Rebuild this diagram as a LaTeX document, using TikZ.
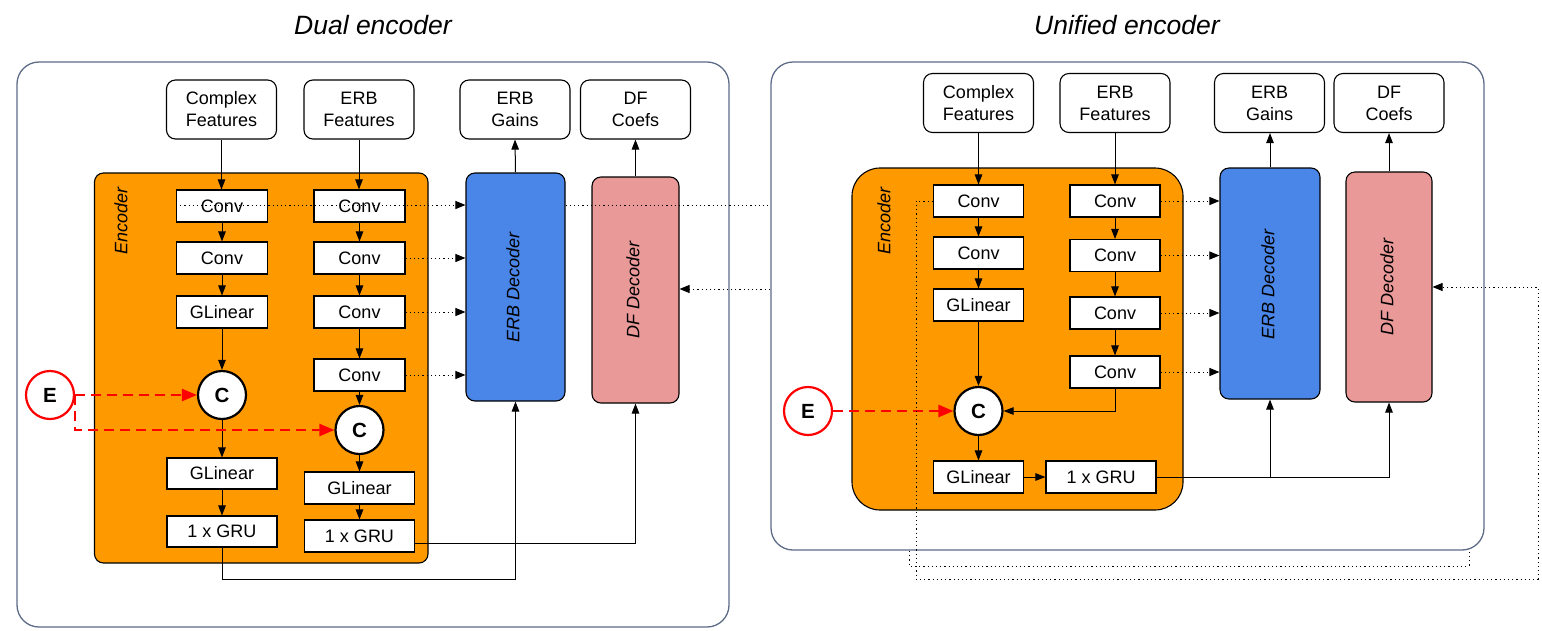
\documentclass[tikz,border=0pt]{standalone}
\usepackage{fontspec}
\setmainfont{Liberation Sans}
\usetikzlibrary{arrows.meta,calc}
\definecolor{encorange}{HTML}{FF9900}
\definecolor{decblue}{HTML}{4A86E8}
\definecolor{decpink}{HTML}{EA9999}
\definecolor{panelc}{HTML}{5E6C87}
\newcommand\blkfont{\fontsize{18}{22}\selectfont}
\begin{document}
\begin{tikzpicture}[x=1pt,y=-1pt,
  panel/.style={draw=panelc,line width=1.3pt,rounded corners=22pt},
  encbox/.style={draw=black,fill=encorange,line width=1.1pt,inner sep=0pt},
  decbox/.style={draw=black,line width=1.1pt,rounded corners=9pt,inner sep=0pt},
  declab/.style={rotate=90,font=\itshape\blkfont},
  feat/.style={draw,fill=white,rounded corners=9pt,line width=1.1pt,align=center,font=\blkfont,minimum height=59pt,minimum width=110pt,inner sep=0pt},
  blk/.style={draw,fill=white,line width=1.1pt,minimum height=32pt,inner sep=0pt,font=\blkfont},
  cnode/.style={circle,draw,fill=white,line width=2.2pt,minimum size=48pt,inner sep=0pt,font=\bfseries\fontsize{20.5}{22}\selectfont},
  enode/.style={circle,draw=red,fill=white,line width=2.2pt,minimum size=48pt,inner sep=0pt,font=\bfseries\fontsize{20.5}{22}\selectfont},
  arr/.style={line width=1pt,-{Triangle[length=10pt,width=7.5pt]}},
  dotarr/.style={line width=1pt,dash pattern=on 1.2pt off 3pt,-{Triangle[length=10pt,width=8pt]}},
  dotln/.style={line width=1pt,dash pattern=on 1.2pt off 3pt},
  redarr/.style={draw=red,line width=2.5pt,dash pattern=on 10pt off 6pt,-{Triangle[length=15pt,width=12pt,fill=red]}},
  ttl/.style={font=\itshape\fontsize{26.5}{30}\selectfont}
]
\useasboundingbox (0,0) rectangle (1542,630);

% titles
\node[ttl] (tL) at (373,25) {Dual encoder};
\node[ttl] (tR) at (1127,25) {Unified encoder};

% panels
\draw[panel] (17,62) rectangle (729,627);
\draw[panel] (771,62) rectangle (1484,550);

%%%%%%%%%%%%%%%% LEFT %%%%%%%%%%%%%%%%
\node[encbox,rounded corners=9pt,minimum width=333.5pt,minimum height=390pt] (encL) at (261.25,368) {};
\node[declab] (encLlab) at (121,221) {Encoder};
\node[decbox,fill=decblue,minimum width=99pt,minimum height=228pt] (erbdL) at (515.5,287) {};
\node[declab] (erbdLlab) at (513,287) {ERB Decoder};
\node[decbox,fill=decpink,minimum width=87pt,minimum height=226pt] (dfdL) at (635.5,290) {};
\node[declab] (dfdLlab) at (633,290) {DF Decoder};

\node[feat] (cfL) at (221.5,109.5) {Complex\\Features};
\node[feat] (efL) at (359,109.5) {ERB\\Features};
\node[feat] (egL) at (515,109.5) {ERB\\Gains};
\node[feat] (dcL) at (635.5,109.5) {DF\\Coefs};

\node[blk,minimum width=91pt] (cc1L) at (222,206) {Conv};
\node[blk,minimum width=91pt] (cc2L) at (222,258) {Conv};
\node[blk,minimum width=91pt] (cglL) at (222,312) {GLinear};
\node[blk,minimum width=91pt] (ec1L) at (359.5,206) {Conv};
\node[blk,minimum width=91pt] (ec2L) at (359.5,258) {Conv};
\node[blk,minimum width=91pt] (ec3L) at (359.5,312) {Conv};
\node[blk,minimum width=91pt] (ec4L) at (359.5,375) {Conv};
\node[cnode] (c1L) at (222,395) {C};
\node[cnode] (c2L) at (359.5,430) {C};
\node[enode] (eL) at (50,395) {E};
\node[blk,minimum width=110pt,minimum height=31pt] (gl1L) at (222,473.5) {GLinear};
\node[blk,minimum width=110pt,minimum height=31pt] (gru1L) at (222,531.5) {1 x GRU};
\node[blk,minimum width=110pt] (gl2L) at (359.5,488) {GLinear};
\node[blk,minimum width=110pt] (gru2L) at (359.5,536) {1 x GRU};

\draw[arr] (cfL.south) -- (cfL.south |- cc1L.north);
\draw[arr] (cc1L) -- (cc2L);
\draw[arr] (cc2L) -- (cglL);
\draw[arr] (cglL) -- (c1L);
\draw[arr] (c1L) -- (gl1L);
\draw[arr] (gl1L) -- (gru1L);
\draw[arr] (efL.south) -- (efL.south |- ec1L.north);
\draw[arr] (ec1L) -- (ec2L);
\draw[arr] (ec2L) -- (ec3L);
\draw[arr] (ec3L) -- (ec4L);
\draw[arr] (ec4L) -- (c2L);
\draw[arr] (c2L) -- (gl2L);
\draw[arr] (gl2L) -- (gru2L);
\draw[arr] (erbdL.north) -- (egL.south);
\draw[arr] (dfdL.north) -- (dfdL.north |- dcL.south);
\draw[arr] (gru1L.south) -- ++(0,32) -| (erbdL.south);
\draw[arr] ($(gru2L.east)+(0,7)$) -| (dfdL.south);

\draw[redarr] (eL.east) -- (c1L.west);
\draw[redarr] (eL.east) |- (c2L.west);

\coordinate (offL1) at (770,205);
\coordinate (offL2) at (770,289);
\draw[dotarr] (cc1L.west |- 0,205) -- (erbdL.west |- 0,205);
\draw[dotln] (erbdL.east |- 0,205) -- (offL1);
\draw[dotarr] (ec2L.east) -- (erbdL.west |- ec2L);
\draw[dotarr] (ec3L.east) -- (erbdL.west |- ec3L);
\draw[dotarr] (ec4L.east) -- (erbdL.west |- ec4L);
\draw[dotarr] (offL2) -- (dfdL.east |- offL2);

%%%%%%%%%%%%%%%% RIGHT %%%%%%%%%%%%%%%%
\node[encbox,rounded corners=28pt,minimum width=331pt,minimum height=342pt] (encR) at (1017.5,339) {};
\node[declab] (encRlab) at (884,221) {Encoder};
\node[decbox,fill=decblue,minimum width=100pt,minimum height=231pt] (erbdR) at (1270,283.5) {};
\node[declab] (erbdRlab) at (1268,284) {ERB Decoder};
\node[decbox,fill=decpink,minimum width=86pt,minimum height=230pt] (dfdR) at (1389,287) {};
\node[declab] (dfdRlab) at (1387,287) {DF Decoder};

\node[feat] (cfR) at (978.5,103) {Complex\\Features};
\node[feat] (efR) at (1115,103) {ERB\\Features};
\node[feat] (egR) at (1269.5,103) {ERB\\Gains};
\node[feat] (dcR) at (1389,103) {DF\\Coefs};

\node[blk,minimum width=90pt] (cc1R) at (978.5,201) {Conv};
\node[blk,minimum width=90pt] (cc2R) at (978.5,253) {Conv};
\node[blk,minimum width=90pt] (cglR) at (978.5,305) {GLinear};
\node[blk,minimum width=90pt] (ec1R) at (1115,201) {Conv};
\node[blk,minimum width=90pt] (ec2R) at (1115,255.5) {Conv};
\node[blk,minimum width=90pt] (ec3R) at (1115,313) {Conv};
\node[blk,minimum width=90pt] (ec4R) at (1115,372) {Conv};
\node[cnode] (cR) at (978.5,411) {C};
\node[enode] (eR) at (808,411) {E};
\node[blk,minimum width=90pt] (glR) at (978.5,477) {GLinear};
\node[blk,minimum width=110pt] (gruR) at (1101,477) {1 x GRU};

\draw[arr] (cfR.south) -- (cc1R.north);
\draw[arr] (cc1R) -- (cc2R);
\draw[arr] (cc2R) -- (cglR);
\draw[arr] (cglR) -- (cR);
\draw[arr] (cR) -- (glR);
\draw[arr] (glR) -- (gruR);
\draw[arr] (efR.south) -- (ec1R.north);
\draw[arr] (ec1R) -- (ec2R);
\draw[arr] (ec2R) -- (ec3R);
\draw[arr] (ec3R) -- (ec4R);
\draw[arr] (ec4R.south) |- (cR.east);
\draw[arr] (erbdR.north) -- (erbdR.north |- egR.south);
\draw[arr] (dfdR.north) -- (dcR.south);
\draw[arr] (gruR.east) -| (erbdR.south);
\draw[arr] (gruR.east) -| (dfdR.south);

\draw[redarr] (eR.east) -- (cR.west);

\draw[dotarr] (ec1R.east) -- (erbdR.west |- ec1R);
\draw[dotarr] (ec2R.east) -- (erbdR.west |- ec2R);
\draw[dotarr] (ec3R.east) -- (erbdR.west |- ec3R);
\draw[dotarr] (ec4R.east) -- (erbdR.west |- ec4R);

\coordinate (loopA) at (916,579);
\coordinate (loopB) at (1538,287);
\draw[dotarr] (cc1R.west) -- (916,201) -- (loopA) -- (1538,579) -- (loopB) -- (dfdR.east |- loopB);
\coordinate (brA) at (909,551);
\coordinate (brB) at (1469,551);
\draw[dotln] (brA) -- (909,566) -- (1469,566) -- (brB);
\end{tikzpicture}
\end{document}
